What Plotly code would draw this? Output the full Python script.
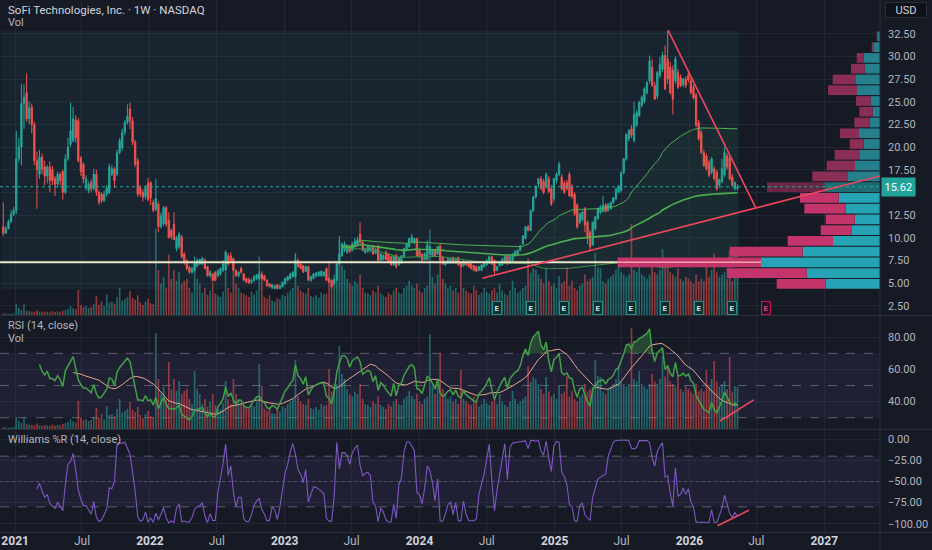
import numpy as np
import pandas as pd
import plotly.graph_objects as go

# weekly candles, one per week starting 2020-11-30 (IPOE before the listing)
first_week = "2020-11-30"

opens = [
    11.2, 10.5, 11.0, 11.8, 12.6, 13.0, 18.7, 20.0, 24.8, 26.0,
    23.1, 24.4, 22.5, 18.5, 17.0, 18.9, 17.8, 16.8, 17.8, 17.5,
    16.5, 15.9, 17.0, 17.3, 15.0, 18.7, 20.3, 20.7, 23.0, 22.9,
    18.8, 18.1, 15.5, 15.2, 16.1, 15.4, 17.0, 15.0, 14.8, 14.1,
    14.8, 15.0, 17.0, 17.6, 17.0, 19.4, 19.9, 21.6, 22.7, 24.2,
    22.9, 20.5, 18.5, 15.5, 15.0, 14.5, 16.0, 16.1, 13.9, 13.1,
    13.7, 11.2, 11.5, 13.3, 11.9, 10.8, 11.5, 8.8, 9.0, 10.1,
    8.2, 7.5,
    6.7, 6.2, 6.4, 6.9, 7.1, 7.1, 7.5, 6.8, 5.8, 6.0,
    6.2, 5.8, 6.0, 6.4, 6.4, 8.0, 8.0, 7.7, 6.4, 5.8,
    6.6, 6.0, 5.5, 5.4, 5.1, 5.3, 5.5, 5.5, 6.0, 5.8,
    5.3, 4.9, 4.5, 4.4, 4.8, 4.4, 4.6, 4.9, 5.3, 5.5,
    5.7, 5.7, 7.5, 7.1, 6.9, 6.3, 6.8, 5.3, 5.5, 5.8,
    5.8, 5.8, 5.8, 6.6, 5.5, 5.3, 4.9, 5.3, 7.1, 8.0,
    8.6, 8.4, 9.0, 8.6, 9.1, 9.3, 10.4, 9.5,
    8.4, 8.5, 8.6, 9.0, 8.3, 9.1, 7.5, 7.6, 8.4, 8.2,
    7.9, 7.0, 8.0, 7.0, 7.2, 7.9, 8.6, 9.0, 9.5, 9.4,
    9.9, 8.6, 8.2, 7.6, 7.6, 8.2, 8.0, 8.6, 8.2, 9.1,
    7.9, 7.0, 7.2, 7.2, 7.8, 7.2, 7.8, 7.3, 6.9, 7.3,
    7.2, 7.1, 6.9, 6.8, 6.4, 6.4, 6.8, 7.0, 7.2, 7.9,
    7.5, 6.4, 6.9, 7.0, 7.2, 8.0, 7.2, 7.5, 8.0, 8.1,
    8.6, 9.3, 9.9, 11.2, 10.8, 13.0, 14.5, 15.9, 16.5, 16.2,
    15.6, 16.5,
    15.4, 14.3, 16.3, 17.0, 16.7, 16.0, 16.1, 17.0, 15.7, 14.8,
    13.6, 11.7, 12.0, 13.2, 11.7, 10.6, 9.2, 11.0, 12.1, 12.8,
    12.9, 13.6, 13.0, 13.2, 13.9, 14.3, 15.0, 15.2, 17.2, 18.7,
    20.9, 22.0, 20.7, 22.4, 23.5, 24.6, 25.0, 26.0, 27.3, 28.8,
    26.8, 25.6, 27.9, 28.6, 30.1, 29.7, 28.8, 28.5, 27.3, 28.2,
    27.7, 26.9, 27.5, 27.9, 27.3, 26.6, 25.7, 22.7, 21.6, 19.4,
    19.0, 18.3, 17.2, 17.6, 17.2, 15.8, 16.2, 16.9, 19.0, 18.7,
    16.7, 15.4, 15.4,
]
highs = [
    13.9, 11.3, 12.0, 13.0, 13.4, 21.8, 21.0, 27.0, 26.9, 28.1,
    25.0, 24.8, 22.8, 19.5, 19.7, 19.3, 18.5, 18.0, 18.4, 17.9,
    16.8, 17.3, 17.2, 17.5, 19.2, 21.0, 24.9, 24.4, 23.5, 23.2,
    19.0, 18.3, 16.9, 16.2, 16.4, 17.6, 17.5, 15.2, 15.0, 15.2,
    15.8, 18.2, 18.0, 17.8, 19.7, 21.0, 22.0, 23.0, 24.7, 24.9,
    23.3, 20.8, 18.8, 15.8, 15.3, 15.8, 16.6, 16.2, 14.2, 16.5,
    14.0, 12.8, 13.5, 13.5, 12.8, 11.0, 12.8, 10.2, 10.6, 10.3,
    8.4, 7.6,
    6.9, 6.8, 7.9, 7.7, 7.7, 7.9, 7.7, 6.9, 6.4, 6.1,
    6.3, 6.5, 6.7, 7.5, 8.6, 8.3, 8.4, 7.8, 6.5, 6.3,
    6.8, 6.1, 5.6, 5.6, 5.5, 5.9, 6.0, 6.3, 6.3, 5.9,
    5.4, 5.0, 4.9, 4.8, 4.9, 4.8, 5.1, 5.6, 5.8, 6.1,
    6.3, 8.2, 7.7, 7.3, 7.0, 6.9, 6.9, 5.8, 6.1, 6.2,
    6.3, 6.4, 6.3, 6.7, 5.6, 5.4, 5.5, 7.2, 10.2, 9.5,
    9.6, 9.3, 9.2, 9.5, 10.0, 10.1, 11.7, 9.7,
    8.9, 9.2, 9.0, 9.2, 8.9, 9.2, 8.3, 8.2, 8.6, 8.3,
    8.0, 8.1, 8.2, 7.9, 8.1, 8.9, 9.4, 10.0, 10.4, 10.0,
    10.0, 8.7, 8.3, 8.4, 9.7, 9.1, 8.7, 8.7, 9.1, 9.3,
    8.0, 7.5, 7.8, 7.8, 7.9, 7.8, 7.9, 7.4, 7.5, 7.4,
    7.3, 7.2, 7.0, 6.9, 6.9, 7.1, 7.3, 7.6, 8.0, 8.0,
    7.6, 6.9, 7.3, 7.8, 8.0, 8.1, 8.0, 8.3, 8.6, 8.7,
    9.2, 10.3, 11.3, 11.4, 13.1, 14.6, 15.8, 16.6, 16.8, 16.5,
    17.2, 16.8,
    15.8, 16.6, 17.2, 18.4, 17.0, 16.3, 16.4, 17.3, 15.9, 15.0,
    13.8, 12.8, 13.0, 13.4, 11.9, 10.8, 11.8, 12.4, 13.3, 13.6,
    14.6, 13.8, 13.8, 14.0, 14.5, 15.5, 15.8, 17.3, 18.8, 21.5,
    22.0, 22.4, 25.0, 24.1, 25.1, 25.7, 26.6, 27.3, 30.1, 29.7,
    27.2, 28.4, 29.9, 30.5, 31.2, 32.8, 29.4, 29.0, 30.0, 28.6,
    28.0, 27.6, 27.8, 28.2, 27.6, 26.9, 26.0, 23.0, 21.9, 19.7,
    19.3, 18.6, 18.9, 17.9, 17.5, 16.5, 18.7, 20.0, 19.3, 19.0,
    17.0, 16.2, 15.9,
]
lows = [
    10.2, 10.4, 10.9, 11.6, 12.4, 12.6, 18.3, 18.0, 22.0, 22.8,
    22.5, 21.5, 18.0, 13.2, 16.5, 17.0, 15.8, 16.0, 15.0, 15.8,
    14.6, 15.5, 15.8, 14.2, 14.8, 18.5, 20.0, 20.5, 20.5, 18.3,
    16.8, 16.0, 15.2, 14.9, 15.0, 15.2, 14.6, 13.6, 13.8, 13.9,
    14.5, 14.8, 16.8, 15.5, 16.8, 19.2, 19.6, 21.3, 22.5, 22.0,
    20.2, 17.8, 14.5, 14.5, 14.0, 14.2, 14.0, 13.6, 12.8, 12.9,
    10.6, 11.0, 11.3, 11.2, 9.9, 9.8, 9.7, 8.5, 8.8, 7.7,
    7.0, 6.4,
    6.0, 6.0, 6.2, 6.7, 7.0, 7.0, 6.5, 5.7, 5.6, 5.1,
    5.2, 5.6, 5.8, 6.2, 6.3, 6.9, 7.3, 6.3, 5.7, 5.6,
    6.0, 5.2, 5.0, 4.9, 4.9, 5.1, 5.3, 5.4, 5.4, 5.2,
    4.6, 4.5, 4.3, 4.3, 4.3, 4.3, 4.5, 4.8, 5.2, 5.4,
    5.6, 5.6, 6.7, 6.5, 6.1, 6.2, 5.2, 5.1, 5.4, 5.6,
    5.7, 5.7, 5.7, 5.2, 5.0, 4.5, 4.8, 5.2, 7.0, 7.9,
    8.4, 8.2, 8.3, 8.5, 9.0, 9.1, 9.4, 8.5,
    8.2, 8.3, 8.4, 8.1, 8.2, 7.4, 7.4, 7.5, 7.5, 7.2,
    6.9, 6.9, 6.6, 6.9, 7.1, 7.8, 8.5, 8.9, 9.4, 9.3,
    7.9, 7.8, 7.4, 7.5, 7.5, 8.1, 7.9, 7.9, 8.1, 7.4,
    7.0, 6.9, 7.1, 7.1, 7.1, 7.1, 6.9, 6.7, 6.8, 6.9,
    6.7, 6.5, 6.3, 6.2, 6.3, 6.3, 6.7, 6.9, 7.1, 7.0,
    6.0, 6.3, 6.8, 6.9, 7.1, 7.0, 7.1, 7.4, 7.9, 8.0,
    8.5, 9.2, 9.8, 10.7, 10.7, 12.8, 14.3, 15.5, 15.2, 14.8,
    15.4, 14.9,
    13.5, 14.0, 16.0, 16.8, 15.2, 14.8, 15.2, 14.5, 14.3, 12.4,
    11.0, 11.5, 11.8, 10.6, 9.3, 8.6, 9.1, 10.8, 12.0, 12.6,
    12.8, 12.8, 12.9, 13.1, 13.7, 14.1, 14.9, 15.0, 17.0, 18.5,
    20.6, 21.0, 20.5, 22.2, 23.3, 24.4, 24.8, 25.8, 27.0, 26.6,
    25.2, 25.3, 27.6, 28.3, 26.3, 27.0, 25.8, 23.6, 27.0, 26.4,
    26.6, 26.6, 26.5, 27.1, 25.8, 25.2, 22.2, 20.7, 19.2, 17.8,
    17.4, 16.7, 17.0, 16.3, 15.2, 15.5, 16.0, 16.7, 17.5, 16.3,
    15.6, 15.2, 15.2,
]
closes = [
    10.5, 11.0, 11.8, 12.6, 13.0, 18.7, 20.0, 24.8, 25.5, 23.1,
    24.3, 22.5, 18.5, 17.5, 18.9, 17.5, 16.8, 17.8, 16.3, 16.3,
    15.9, 17.0, 16.3, 15.0, 18.7, 20.0, 21.8, 23.1, 21.0, 18.5,
    17.3, 16.5, 16.5, 15.9, 15.4, 17.0, 15.0, 13.9, 14.1, 14.8,
    15.5, 17.8, 17.6, 16.3, 19.4, 20.7, 21.6, 22.7, 23.4, 22.9,
    20.5, 18.1, 14.8, 14.8, 14.5, 15.5, 14.2, 14.4, 13.0, 14.3,
    11.2, 12.4, 13.3, 11.5, 10.0, 10.1, 9.8, 10.0, 10.4, 7.9,
    7.3, 6.6,
    6.2, 6.6, 7.3, 7.5, 7.6, 7.7, 6.6, 5.8, 6.2, 5.3,
    5.3, 6.3, 6.6, 7.1, 8.4, 7.1, 7.5, 6.4, 5.8, 6.2,
    6.2, 5.3, 5.1, 5.0, 5.3, 5.7, 5.9, 6.0, 5.5, 5.3,
    4.7, 4.6, 4.8, 4.7, 4.4, 4.7, 5.1, 5.5, 5.7, 6.0,
    6.2, 7.5, 6.8, 6.6, 6.2, 6.8, 5.3, 5.7, 6.0, 6.1,
    6.2, 6.3, 6.2, 5.3, 5.1, 4.6, 5.4, 7.1, 8.2, 9.3,
    9.3, 9.1, 8.5, 9.3, 9.6, 9.8, 9.5, 8.6,
    8.8, 9.0, 8.9, 8.2, 8.7, 7.5, 8.2, 8.0, 7.6, 7.3,
    7.0, 8.0, 6.8, 7.8, 8.0, 8.8, 9.3, 9.9, 10.1, 9.9,
    8.0, 7.9, 7.5, 8.2, 9.2, 9.0, 8.6, 8.0, 9.0, 7.5,
    7.1, 7.3, 7.6, 7.7, 7.2, 7.6, 7.0, 6.8, 7.4, 7.0,
    6.8, 6.6, 6.4, 6.3, 6.8, 7.0, 7.2, 7.5, 7.9, 7.1,
    6.3, 6.8, 7.2, 7.6, 7.9, 7.1, 7.9, 8.2, 8.5, 8.6,
    9.1, 10.2, 11.2, 10.8, 13.0, 14.5, 15.6, 16.5, 15.4, 15.0,
    17.0, 15.1,
    13.7, 16.5, 17.0, 18.1, 15.4, 15.0, 15.4, 14.6, 14.5, 12.6,
    11.2, 12.6, 12.8, 11.4, 9.9, 9.0, 11.7, 12.3, 13.2, 13.4,
    13.6, 12.9, 13.7, 13.9, 14.4, 15.4, 15.7, 17.2, 18.7, 21.4,
    21.8, 21.3, 23.6, 23.8, 24.9, 25.5, 26.4, 27.1, 29.5, 26.8,
    25.3, 28.2, 29.1, 30.1, 26.4, 27.5, 26.0, 25.3, 29.7, 26.6,
    26.8, 27.5, 26.8, 27.4, 26.0, 25.4, 22.4, 20.9, 19.4, 18.0,
    17.6, 16.9, 18.7, 16.5, 15.4, 16.4, 17.6, 19.4, 17.8, 16.5,
    15.8, 16.1, 15.62,
]
# weekly volume, millions of shares
volume = [
    8, 6, 5, 6, 7, 48, 32, 24, 48,
    20, 18, 16, 14, 22, 15, 12, 16, 14, 12, 18, 13,
    16, 14, 20, 24, 28, 40, 30, 26, 112,
    44, 36, 40, 32, 36, 48, 84, 44, 60, 40, 92, 56,
    60, 50, 80, 120, 64, 72, 80, 108, 76, 68,
    88, 56, 44, 60, 72, 52, 48, 384,
    200, 140, 168, 120, 268, 160, 200, 152, 192,
    140, 152, 160, 120, 100, 232, 160, 140,
    100, 120, 90, 110, 140, 96, 88, 80, 104, 192, 120, 100, 200,
    140, 120, 100, 96, 88, 80, 104, 92, 110, 260, 172,
    80, 72, 88, 64, 60, 76, 70, 90, 84, 100, 110, 120, 276,
    130, 110, 100, 96, 120, 84, 80, 88, 76, 100, 92, 96, 240,
    150, 180, 180, 332, 220, 200, 160, 140, 130, 150, 140, 180,
    120, 100, 96, 88, 110, 100, 130, 96, 88, 80, 100, 90,
    110, 120, 100, 96, 120, 130, 152, 132, 120, 140, 110, 100, 120, 130, 380,
    170, 140, 180, 304, 160, 140, 120, 130, 110, 120, 100, 236,
    120, 110, 100, 96, 130, 110, 90, 100, 120, 104, 96, 110, 120,
    100, 140, 110, 96, 88, 110, 152, 120, 100, 110, 120, 130, 252,
    188, 208, 200, 180, 160, 140, 208, 150, 130, 140, 120, 172,
    140, 150, 212, 130, 152, 120, 110, 130, 140, 180, 150, 160, 170,
    276, 212, 208, 150, 140, 160, 170, 180, 200, 252, 190, 180, 170,
    180, 404, 200, 190, 232, 180, 170, 160, 180, 220, 190, 180, 200, 292, 210, 256,
    190, 180, 170, 208, 160, 150, 170, 160, 150, 140, 180, 150, 160,
    150, 236, 170, 200, 272, 190, 170, 180, 192, 160, 288, 150, 172, 168,
]

earnings_dates = ["2024-07-29", "2024-10-28", "2025-01-27", "2025-04-28",
                  "2025-07-28", "2025-10-27", "2026-01-26", "2026-04-27"]
next_earnings = "2026-07-27"

# fixed range volume profile, 24 rows from the range low to the range high
vp_up = [1086, 1466, 2380, 1546, 940, 566, 506, 686, 826, 1114, 654, 500,
         414, 326, 420, 206, 146, 186, 460, 494, 306, 326, 120, 40]
vp_down = [980, 1600, 2866, 1460, 906, 620, 580, 828, 774, 1146, 700, 566,
           492, 280, 380, 308, 268, 294, 580, 452, 274, 140, 46, 26]
value_area_high = 15.0

# drawings
resist_dates, resist_prices = ["2025-11-04", "2026-06-29"], [32.9, 13.35]
support_dates, support_prices = ["2024-06-19", "2027-06-01"], [5.52, 16.8]
level_price = 7.28
rsi_div_dates, rsi_div_vals = ["2026-03-25", "2026-06-24"], [28.0, 41.1]
wr_div_dates, wr_div_vals = ["2026-03-18", "2026-06-11"], [-102.4, -84.1]
vwap_anchor = "2023-06-05"

price_ticks = [2.5, 5.0, 7.5, 10.0, 12.5, 15.0, 17.5, 20.0, 22.5, 25.0, 27.5, 30.0, 32.5]
rsi_ticks = [40, 60, 80]
wr_ticks = [0, -25, -50, -75, -100]
time_ticks = ["2021-01-01", "2021-07-01", "2022-01-01", "2022-07-01", "2023-01-01",
              "2023-07-01", "2024-01-01", "2024-07-01", "2025-01-01", "2025-07-01",
              "2026-01-01", "2026-07-01", "2027-01-01"]
time_labels = ["2021", "Jul", "2022", "Jul", "2023", "Jul", "2024", "Jul", "2025",
               "Jul", "2026", "Jul", "2027"]

# ---------------------------------------------------------------- indicators
n = min(len(opens), len(highs), len(lows), len(closes), len(volume))
dates = pd.date_range(first_week, periods=n, freq="W-MON")
o = pd.Series(opens[:n], index=dates)
h = pd.Series(highs[:n], index=dates)
l = pd.Series(lows[:n], index=dates)
c = pd.Series(closes[:n], index=dates)
v = pd.Series(volume[:n], index=dates, dtype=float)

delta = c.diff()
up_avg = delta.clip(lower=0).ewm(alpha=1 / 14, min_periods=14, adjust=False).mean()
dn_avg = (-delta.clip(upper=0)).ewm(alpha=1 / 14, min_periods=14, adjust=False).mean()
rsi = 100 - 100 / (1 + up_avg / dn_avg)
rsi_ma = rsi.rolling(14).mean()

hh = h.rolling(14).max()
ll = l.rolling(14).min()
wr = -100 * (hh - c) / (hh - ll)

hlc3 = (h + l + c) / 3
m = dates >= pd.Timestamp(vwap_anchor)
cv = v[m].cumsum()
vwap = (hlc3[m] * v[m]).cumsum() / cv
sd = np.sqrt(((v[m] * hlc3[m] ** 2).cumsum() / cv - vwap ** 2).clip(lower=0))

# ---------------------------------------------------------------- style
BG = "#161a25"
GRID = "rgba(60,66,84,0.35)"
TXT = "#b2b5be"
TITLE = "#d1d4dc"
UP = "#26a69a"
DOWN = "#ef5350"
LINE_RED = "#f0465c"
FONT = "Roboto, sans-serif"
W, H = 932, 550
PX = 880 / W
D_MAIN = [1 - 315 / H, 1.0]
D_RSI = [1 - 429 / H, 1 - 316 / H]
D_WR = [1 - 532 / H, 1 - 430 / H]
X_RANGE = ["2020-11-21", "2027-06-01"]
VP_RANGE = 17600

up_week = (c >= o).values
vol_colors = ["rgba(38,166,154,0.55)" if u else "rgba(239,83,80,0.55)" for u in up_week]

fig = go.Figure()

# main pane: candles + anchored VWAP bands
fig.add_trace(go.Candlestick(
    x=dates, open=o, high=h, low=l, close=c, xaxis="x", yaxis="y",
    increasing=dict(line=dict(color=UP, width=1), fillcolor=UP),
    decreasing=dict(line=dict(color=DOWN, width=1), fillcolor=DOWN),
    whiskerwidth=0, showlegend=False, hoverinfo="skip"))
vd = dates[m]
fig.add_trace(go.Scatter(x=vd, y=vwap - sd, mode="lines", line=dict(color="#3f8f47", width=1),
                         xaxis="x", yaxis="y", showlegend=False, hoverinfo="skip"))
fig.add_trace(go.Scatter(x=vd, y=vwap + sd, mode="lines", line=dict(color="#4caf50", width=1),
                         fill="tonexty", fillcolor="rgba(76,175,80,0.05)",
                         xaxis="x", yaxis="y", showlegend=False, hoverinfo="skip"))
fig.add_trace(go.Scatter(x=vd, y=vwap, mode="lines", line=dict(color="#4caf50", width=1.6),
                         xaxis="x", yaxis="y", showlegend=False, hoverinfo="skip"))

# main pane volume
fig.add_trace(go.Bar(x=dates, y=v, marker=dict(color=vol_colors, line=dict(width=0)),
                     width=4.5 * 86400000, xaxis="x", yaxis="y4",
                     showlegend=False, hoverinfo="skip"))

# volume profile
lo, hi = l.min(), h.max()
step = (hi - lo) / len(vp_up)
centers = [lo + step * (k + 0.5) for k in range(len(vp_up))]
last = c.iloc[-1]
up_cols, dn_cols = [], []
for y in centers:
    if abs(y - last) <= step / 2:
        up_cols.append("#1f6d74"); dn_cols.append("#6b2644")
    elif y < value_area_high:
        up_cols.append("#26a3b4"); dn_cols.append("#c2346a")
    else:
        up_cols.append("#267f8c"); dn_cols.append("#8a2e55")
fig.add_trace(go.Bar(y=centers, x=vp_up, base=0, orientation="h", width=step * 0.9,
                     marker=dict(color=up_cols, line=dict(width=0)),
                     xaxis="x4", yaxis="y", showlegend=False, hoverinfo="skip"))
fig.add_trace(go.Bar(y=centers, x=vp_down, base=vp_up, orientation="h", width=step * 0.9,
                     marker=dict(color=dn_cols, line=dict(width=0)),
                     xaxis="x4", yaxis="y", showlegend=False, hoverinfo="skip"))

# RSI pane: volume underneath, RSI on top
fig.add_trace(go.Bar(x=dates, y=v, marker=dict(color=vol_colors, line=dict(width=0)),
                     width=4.5 * 86400000, xaxis="x2", yaxis="y2",
                     showlegend=False, hoverinfo="skip"))
ok = rsi.notna()
rd = dates[ok]
fig.add_trace(go.Scatter(x=rd, y=[70] * ok.sum(), mode="lines", line=dict(width=0),
                         xaxis="x2", yaxis="y5", showlegend=False, hoverinfo="skip"))
fig.add_trace(go.Scatter(x=rd, y=np.maximum(rsi[ok], 70), mode="lines", line=dict(width=0),
                         fill="tonexty", fillcolor="rgba(76,175,80,0.30)",
                         xaxis="x2", yaxis="y5", showlegend=False, hoverinfo="skip"))
fig.add_trace(go.Scatter(x=rd, y=[30] * ok.sum(), mode="lines", line=dict(width=0),
                         xaxis="x2", yaxis="y5", showlegend=False, hoverinfo="skip"))
fig.add_trace(go.Scatter(x=rd, y=np.minimum(rsi[ok], 30), mode="lines", line=dict(width=0),
                         fill="tonexty", fillcolor="rgba(239,83,80,0.25)",
                         xaxis="x2", yaxis="y5", showlegend=False, hoverinfo="skip"))
fig.add_trace(go.Scatter(x=dates, y=rsi_ma, mode="lines", line=dict(color="#e5a98c", width=1),
                         xaxis="x2", yaxis="y5", showlegend=False, hoverinfo="skip"))
fig.add_trace(go.Scatter(x=dates, y=rsi, mode="lines", line=dict(color="#43a047", width=1.5),
                         xaxis="x2", yaxis="y5", showlegend=False, hoverinfo="skip"))

# Williams %R pane
fig.add_trace(go.Scatter(x=dates, y=wr, mode="lines", line=dict(color="#7e57c2", width=1.1),
                         xaxis="x3", yaxis="y3", showlegend=False, hoverinfo="skip"))

# ---------------------------------------------------------------- axes
xbase = dict(type="date", range=X_RANGE, domain=[0, PX], showgrid=True, gridcolor=GRID,
             gridwidth=1, zeroline=False, showline=False, tickvals=time_ticks,
             ticks="", fixedrange=True)
tick_text = ["<b>%s</b>" % t if t != "Jul" else '<span style="color:%s">Jul</span>' % TXT
             for t in time_labels]
ybase = dict(side="right", showgrid=True, gridcolor=GRID, zeroline=False, showline=False,
             ticks="", ticklabelstandoff=7, tickfont=dict(color=TXT, size=11, family=FONT),
             fixedrange=True)

fig.update_layout(
    width=W, height=H, margin=dict(l=0, r=0, t=0, b=0),
    paper_bgcolor=BG, plot_bgcolor=BG, barmode="overlay", hovermode=False,
    font=dict(family=FONT, color=TXT, size=11),
    xaxis=dict(**xbase, anchor="y", showticklabels=False, rangeslider=dict(visible=False)),
    xaxis2=dict(**xbase, anchor="y2", showticklabels=False, matches="x"),
    xaxis3=dict(**xbase, anchor="y3", ticktext=tick_text, showticklabels=True, matches="x",
                tickfont=dict(color=TITLE, size=12, family=FONT)),
    xaxis4=dict(type="linear", overlaying="x", range=[VP_RANGE, 0], visible=False),
    yaxis=dict(**ybase, domain=D_MAIN, anchor="x", range=[1.47, 36.22],
               tickvals=price_ticks, ticktext=["%.2f" % t for t in price_ticks]),
    yaxis4=dict(overlaying="y", range=[0, 1400], visible=False, fixedrange=True),
    yaxis2=dict(domain=D_RSI, anchor="x2", range=[0, 452], visible=False, fixedrange=True),
    yaxis5=dict(**ybase, overlaying="y2", anchor="x2", range=[23.0, 93.2],
                tickvals=rsi_ticks, ticktext=["%.2f" % t for t in rsi_ticks]),
    yaxis3=dict(**ybase, domain=D_WR, anchor="x3", range=[-109.8, 11.0],
                tickvals=wr_ticks,
                ticktext=[("%.2f" % t).replace("-", "\u2212") for t in wr_ticks]),
)

# ---------------------------------------------------------------- shapes
shapes = []
# volume profile range box
shapes.append(dict(type="rect", xref="x", yref="y", layer="below",
                   x0=dates[0] - pd.Timedelta(days=5), x1=dates[-1] + pd.Timedelta(days=4),
                   y0=lo, y1=hi, line=dict(width=0), fillcolor="rgba(40,120,140,0.12)"))
# RSI bands
shapes.append(dict(type="rect", xref="x2 domain", yref="y5", layer="below", x0=0, x1=1,
                   y0=30, y1=70, line=dict(width=0), fillcolor="rgba(126,87,194,0.10)"))
for lv in (70, 50, 30):
    shapes.append(dict(type="line", xref="x2 domain", yref="y5", layer="below", x0=0, x1=1,
                       y0=lv, y1=lv, line=dict(color="rgba(120,123,134,0.7)", width=1, dash="dash")))
# Williams %R bands
shapes.append(dict(type="rect", xref="x3 domain", yref="y3", layer="below", x0=0, x1=1,
                   y0=-80, y1=-20, line=dict(width=0), fillcolor="rgba(126,87,194,0.10)"))
for lv, ds in ((-20, "dash"), (-80, "dash"), (-50, "dot")):
    shapes.append(dict(type="line", xref="x3 domain", yref="y3", layer="below", x0=0, x1=1,
                       y0=lv, y1=lv, line=dict(color="rgba(120,123,134,0.7)", width=1, dash=ds)))
# pane separators and price-scale border
for yy in (315.5, 429.5, 532.5):
    shapes.append(dict(type="line", xref="paper", yref="paper", x0=0, x1=1,
                       y0=1 - yy / H, y1=1 - yy / H, line=dict(color="#2a2e39", width=1)))
shapes.append(dict(type="line", xref="paper", yref="paper", x0=PX, x1=PX, y0=0, y1=1,
                   line=dict(color="#2a2e39", width=1)))
# current price
shapes.append(dict(type="line", xref="x domain", yref="y", x0=0, x1=1, y0=last, y1=last,
                   line=dict(color=UP, width=1, dash="dot")))
# horizontal level and profile POC
poc = int(np.argmax(np.array(vp_up) + np.array(vp_down)))
poc_total = vp_up[poc] + vp_down[poc]
shapes.append(dict(type="line", xref="x4", yref="y", x0=VP_RANGE, x1=poc_total,
                   y0=level_price, y1=level_price, line=dict(color="#e9e5c5", width=2)))
shapes.append(dict(type="line", xref="x4", yref="y", x0=poc_total, x1=vp_up[poc],
                   y0=level_price, y1=level_price, line=dict(color="#f3a3ab", width=1.5)))
# trend lines
shapes.append(dict(type="line", xref="x", yref="y", x0=resist_dates[0], x1=resist_dates[1],
                   y0=resist_prices[0], y1=resist_prices[1], line=dict(color=LINE_RED, width=1.6)))
shapes.append(dict(type="line", xref="x", yref="y", x0=support_dates[0], x1=support_dates[1],
                   y0=support_prices[0], y1=support_prices[1], line=dict(color=LINE_RED, width=1.6)))
shapes.append(dict(type="line", xref="x2", yref="y5", x0=rsi_div_dates[0], x1=rsi_div_dates[1],
                   y0=rsi_div_vals[0], y1=rsi_div_vals[1], line=dict(color=LINE_RED, width=1.6)))
shapes.append(dict(type="line", xref="x3", yref="y3", x0=wr_div_dates[0], x1=wr_div_dates[1],
                   y0=wr_div_vals[0], y1=wr_div_vals[1], line=dict(color=LINE_RED, width=1.6)))
fig.update_layout(shapes=shapes)

# ---------------------------------------------------------------- labels
ann = []
def label(text, y_px, size=11, color=TXT):
    ann.append(dict(text=text, xref="paper", yref="paper", x=6 / W, y=1 - y_px / H,
                    xanchor="left", yanchor="middle", showarrow=False,
                    font=dict(size=size, color=color, family=FONT)))

label("SoFi Technologies, Inc. \u00b7 1W \u00b7 NASDAQ", 9.5, 11.5, TITLE)
label("Vol", 22, 11)
label("RSI (14, close)", 325, 11, TXT)
label("Vol", 338, 11)
label("Williams %R (14, close)", 439, 11, TXT)

for d in earnings_dates:
    ann.append(dict(text="<b>E</b>", x=d, xref="x", y=1 - 307.5 / H, yref="paper",
                    showarrow=False, font=dict(size=8, color="#c9e9e6", family=FONT),
                    bgcolor="#0f2d2e", bordercolor="#2a8f86", borderwidth=1, borderpad=1.5))
ann.append(dict(text="<b>E</b>", x=next_earnings, xref="x", y=1 - 307.5 / H, yref="paper",
                showarrow=False, font=dict(size=8, color="#e0457e", family=FONT),
                bgcolor="#2a1222", bordercolor="#c2185b", borderwidth=1, borderpad=1.5))

ann.append(dict(text="%.2f" % last, xref="paper", x=881 / W, yref="y", y=last,
                xanchor="left", yanchor="middle", showarrow=False,
                font=dict(size=11, color="#ffffff", family=FONT),
                bgcolor="#22a39a", borderpad=2.5))
ann.append(dict(text="USD", xref="paper", x=906 / W, yref="paper", y=1 - 10 / H,
                xanchor="center", yanchor="middle", showarrow=False, width=38, height=12,
                font=dict(size=11, color=TITLE, family=FONT),
                bgcolor="#0f1118", bordercolor="#2a2e39", borderwidth=1, borderpad=1))
fig.update_layout(annotations=ann)

# the page is photographed at exactly the figure size, so drop the default body margin
fig.write_html("out.html", config={"displayModeBar": False, "staticPlot": True},
               post_script="document.body.style.margin='0';document.body.style.padding='0';"
                           "document.body.style.overflow='hidden';")
